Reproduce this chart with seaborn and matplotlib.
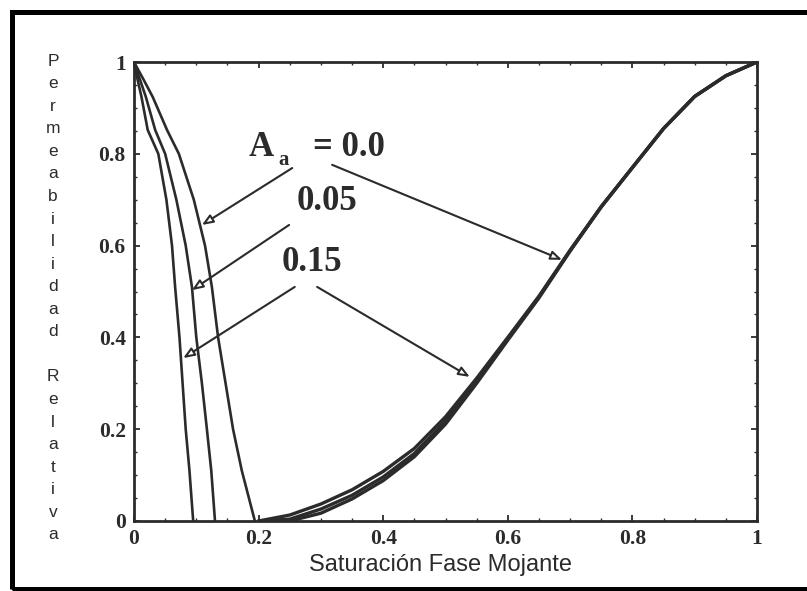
import numpy as np
import pandas as pd
import matplotlib
matplotlib.use("Agg")
import matplotlib.pyplot as plt
import seaborn as sns
from matplotlib.patches import Rectangle
from matplotlib.ticker import MultipleLocator, FuncFormatter

# ---------------- data ----------------
# Non-wetting phase relative permeability (decreasing curves)
nw_y = [1.0, 0.96, 0.924, 0.852, 0.80, 0.70, 0.60, 0.51, 0.40, 0.30, 0.20, 0.11, 0.0]
nw_x_a000 = [0.0, 0.016, 0.030, 0.053, 0.072, 0.096, 0.114, 0.125, 0.135, 0.147, 0.159, 0.173, 0.194]
nw_x_a005 = [0.0, 0.010, 0.019, 0.034, 0.050, 0.068, 0.083, 0.093, 0.100, 0.109, 0.117, 0.124, 0.130]
nw_x_a015 = [0.0, 0.006, 0.012, 0.022, 0.039, 0.052, 0.061, 0.066, 0.073, 0.078, 0.083, 0.089, 0.095]

# Wetting phase relative permeability (increasing curves)
w_x = [0.20, 0.25, 0.30, 0.35, 0.40, 0.45, 0.50, 0.55, 0.60, 0.65, 0.70,
       0.75, 0.80, 0.85, 0.90, 0.95, 1.00]
w_y_a000 = [0.0, 0.013, 0.037, 0.068, 0.108, 0.158, 0.227, 0.311, 0.400,
            0.490, 0.590, 0.685, 0.770, 0.855, 0.925, 0.970, 1.0]
w_y_a005 = [0.0, 0.004, 0.026, 0.056, 0.096, 0.147, 0.218, 0.305, 0.397,
            0.488, 0.589, 0.685, 0.770, 0.855, 0.925, 0.970, 1.0]
w_y_a015 = [0.0, 0.0, 0.017, 0.048, 0.088, 0.140, 0.211, 0.300, 0.394,
            0.486, 0.588, 0.684, 0.770, 0.855, 0.925, 0.970, 1.0]

x_ticks = [0, 0.2, 0.4, 0.6, 0.8, 1.0]
y_ticks = [0, 0.2, 0.4, 0.6, 0.8, 1.0]

labels = ["A", "a", "= 0.0", "0.05", "0.15"]
x_title = "Saturación Fase Mojante"
y_title_1 = "Permeabilidad"
y_title_2 = "Relativa"

# ---------------- figure ----------------
sns.set_theme(style="white")
plt.rcParams["font.family"] = ["Liberation Sans", "DejaVu Sans"]

ink = "#2b2b2b"
fig = plt.figure(figsize=(8.07, 5.91), dpi=100)
ax = fig.add_axes([134 / 807, 70 / 591, 623 / 807, 459 / 591])

for xs in (nw_x_a000, nw_x_a005, nw_x_a015):
    sns.lineplot(x=xs, y=nw_y, sort=False, estimator=None, color=ink,
                 linewidth=1.9, ax=ax)
for ys in (w_y_a015, w_y_a005, w_y_a000):
    sns.lineplot(x=w_x, y=ys, sort=False, estimator=None, color=ink,
                 linewidth=2.4, ax=ax)

ax.set_xlim(0, 1)
ax.set_ylim(0, 1)
for s in ax.spines.values():
    s.set_visible(True)
    s.set_color(ink)
    s.set_linewidth(2.0)

serif = ["Liberation Serif", "DejaVu Serif"]
fmt = FuncFormatter(lambda v, p: "%d" % v if abs(v - round(v)) < 1e-9 else ("%.1f" % v))
ax.set_xticks(x_ticks)
ax.set_yticks(y_ticks)
ax.xaxis.set_major_formatter(fmt)
ax.yaxis.set_major_formatter(fmt)
ax.xaxis.set_minor_locator(MultipleLocator(0.05))
ax.yaxis.set_minor_locator(MultipleLocator(0.05))
ax.tick_params(which="major", direction="in", length=4, width=1.3, color=ink,
               top=True, right=True, bottom=True, left=True, pad=6)
ax.tick_params(which="minor", direction="in", length=2, width=1.0, color=ink,
               top=True, right=True, bottom=True, left=True)
for lab in ax.get_xticklabels() + ax.get_yticklabels():
    lab.set_family(serif)
    lab.set_fontweight("bold")
    lab.set_fontsize(15.5)
    lab.set_color(ink)
ax.set_xlabel("")
ax.set_ylabel("")

# ---------------- annotations ----------------
tfont = dict(family=serif, fontweight="bold", color=ink)
ax.text(0.204, 0.813, labels[0], fontsize=25, ha="center", va="center", **tfont)
ax.text(0.240, 0.786, labels[1], fontsize=15, ha="center", va="center", **tfont)
ax.text(0.345, 0.813, labels[2], fontsize=25, ha="center", va="center", **tfont)
ax.text(0.310, 0.695, labels[3], fontsize=25, ha="center", va="center", **tfont)
ax.text(0.286, 0.564, labels[4], fontsize=25, ha="center", va="center", **tfont)

aprops = dict(arrowstyle="-|>,head_length=0.55,head_width=0.22",
              fc="white", ec=ink, lw=1.5, shrinkA=0, shrinkB=0)
arrows = [((0.254, 0.769), (0.109, 0.645)),
          ((0.318, 0.776), (0.687, 0.569)),
          ((0.249, 0.645), (0.093, 0.503)),
          ((0.258, 0.510), (0.079, 0.355)),
          ((0.294, 0.510), (0.539, 0.314))]
for start, tip in arrows:
    ax.annotate("", xy=tip, xytext=start, xycoords="data", textcoords="data",
                arrowprops=aprops)

# axis titles
fig.text(440 / 807, 1 - 565 / 591, x_title, fontsize=17, ha="center",
         va="center", color=ink)
ytxt = "\n".join(list(y_title_1)) + "\n\n" + "\n".join(list(y_title_2))
fig.text(53 / 807, 1 - 298 / 591, ytxt, fontsize=12.5, ha="center",
         va="center", linespacing=1.63, color=ink)

# outer frame of the scanned figure
fig.patches.append(Rectangle((12 / 807, 2 / 591), 1.2, 1 - 12 / 591 - 2 / 591,
                             transform=fig.transFigure, fill=False,
                             edgecolor="black", linewidth=3.6, clip_on=False))

fig.savefig("out.png", dpi=100, facecolor="white")
